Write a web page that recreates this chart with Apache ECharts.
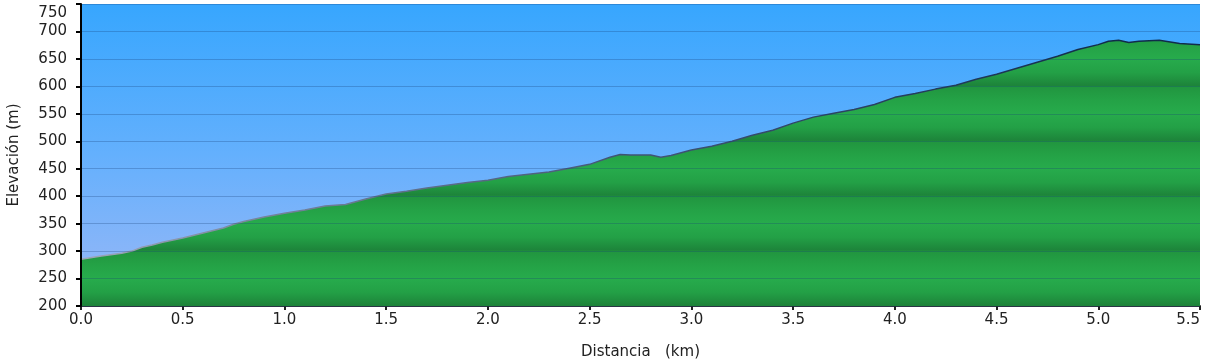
<!DOCTYPE html>
<html>
<head>
<meta charset="utf-8">
<script src="https://cdn.jsdelivr.net/npm/echarts@6/dist/echarts.min.js"></script>
<style>html,body{margin:0;padding:0;background:#fff}#c{width:1221px;height:362px}</style>
</head>
<body>
<div id="c"></div>
<script>
const distanceKm = [0.0,0.1,0.2,0.25,0.3,0.35,0.4,0.5,0.6,0.7,0.75,0.8,0.9,1.0,1.1,1.2,1.3,1.4,1.5,1.6,1.7,1.8,1.9,2.0,2.1,2.2,2.3,2.4,2.5,2.6,2.65,2.7,2.8,2.85,2.9,3.0,3.1,3.2,3.3,3.4,3.5,3.6,3.7,3.8,3.9,4.0,4.1,4.2,4.3,4.4,4.5,4.6,4.7,4.8,4.9,5.0,5.05,5.1,5.15,5.2,5.3,5.4,5.5];
const elevationM = [285,291,296,300,307,311,316,324,333,342,349,354,362,369,375,382,385,395,404,409,415,420,425,429,436,440,444,451,458,471,476,475,475,471,474,484,491,500,511,520,533,544,551,558,567,580,587,595,602,613,622,633,644,655,667,676,682,684,680,682,684,678,676];
const yTicks = {min:200, max:750, step:50};
const xTicks = {min:0, max:5.5, step:0.5};

const chart = echarts.init(document.getElementById('c'), null, {renderer:'canvas'});
const font = 'DejaVu Sans';
const data = distanceKm.map((d,i)=>[d, elevationM[i]]);

function build(greenFill, lineColor){
  return {
    animation:false,
    grid:{left:81, right:21, top:4, bottom:56, show:true, borderWidth:0, outerBoundsMode:'none', containLabel:false,
      backgroundColor:new echarts.graphic.LinearGradient(0,0,0,1,[
        {offset:0,color:'#37a6fe'},{offset:0.5,color:'#64b0fd'},{offset:1,color:'#9cb8f6'}])},
    xAxis:{type:'value', min:xTicks.min, max:xTicks.max, interval:xTicks.step,
      name:'Distancia   (km)', nameLocation:'middle', nameGap:39,
      nameTextStyle:{fontFamily:font, fontSize:15, color:'#222'},
      axisLine:{show:true, onZero:false, lineStyle:{color:'#333', width:2}},
      axisTick:{show:true, length:4, lineStyle:{color:'#222', width:2}},
      axisLabel:{fontFamily:font, fontSize:15, color:'#222', margin:7, alignMaxLabel:'right',
        formatter:v=>v.toFixed(1)},
      splitLine:{show:false}},
    yAxis:{type:'value', min:yTicks.min, max:yTicks.max, interval:yTicks.step, z:3,
      name:'Elevación (m)', nameLocation:'middle', nameGap:59, nameRotate:90,
      nameTextStyle:{fontFamily:font, fontSize:15, color:'#222'},
      axisLine:{show:true, lineStyle:{color:'#000', width:2}},
      axisTick:{show:true, length:5, lineStyle:{color:'#000', width:2}},
      axisLabel:{fontFamily:font, fontSize:15, color:'#222', margin:14,
        formatter:v=> v===yTicks.max ? '{t|'+v+'}' : String(v),
        rich:{t:{fontFamily:font, fontSize:15, color:'#222', padding:[18,0,0,0]}}},
      splitLine:{show:true, lineStyle:{color:'rgba(20,60,120,0.28)', width:1}}},
    series:[{type:'line', data:data, symbol:'none', smooth:false, z:2,
      lineStyle:{color:lineColor, width:1.5},
      areaStyle:{origin:'start', color:greenFill, opacity:1}}]
  };
}

chart.setOption(build('#22a045', '#334'));
// build banded green gradient in pixel space
const py = v => chart.convertToPixel({yAxisIndex:0}, v);
const yTop = py(yTicks.max), yBot = py(yTicks.min);
const H = yBot - yTop;
const stops = [];
const pts = [];
for (let v = 800; v > yTicks.min; v -= 100) {
  const a = (py(v) - yTop)/H, m = (py(v-50)-yTop)/H, b = (py(v-100)-yTop)/H;
  pts.push([a,'#21953f'],[(a+m)/2,'#24a246'],[m,'#27ab4c'],[(m+b)/2,'#23a046'],[b-0.003,'#1d843a']);
}
pts.forEach(p => { if (p[0] >= 0 && p[0] <= 1) stops.push({offset:p[0], color:p[1]}); });
stops.sort((x,y)=>x.offset-y.offset);
const green = new echarts.graphic.LinearGradient(0, yTop, 0, yBot, stops, true);
const line = new echarts.graphic.LinearGradient(0, py(690), 0, py(280), [
  {offset:0,color:'#0f2a48'},{offset:0.5,color:'#3a5070'},{offset:1,color:'#9ea6b8'}], true);
chart.setOption(build(green, line));
</script>
</body>
</html>
